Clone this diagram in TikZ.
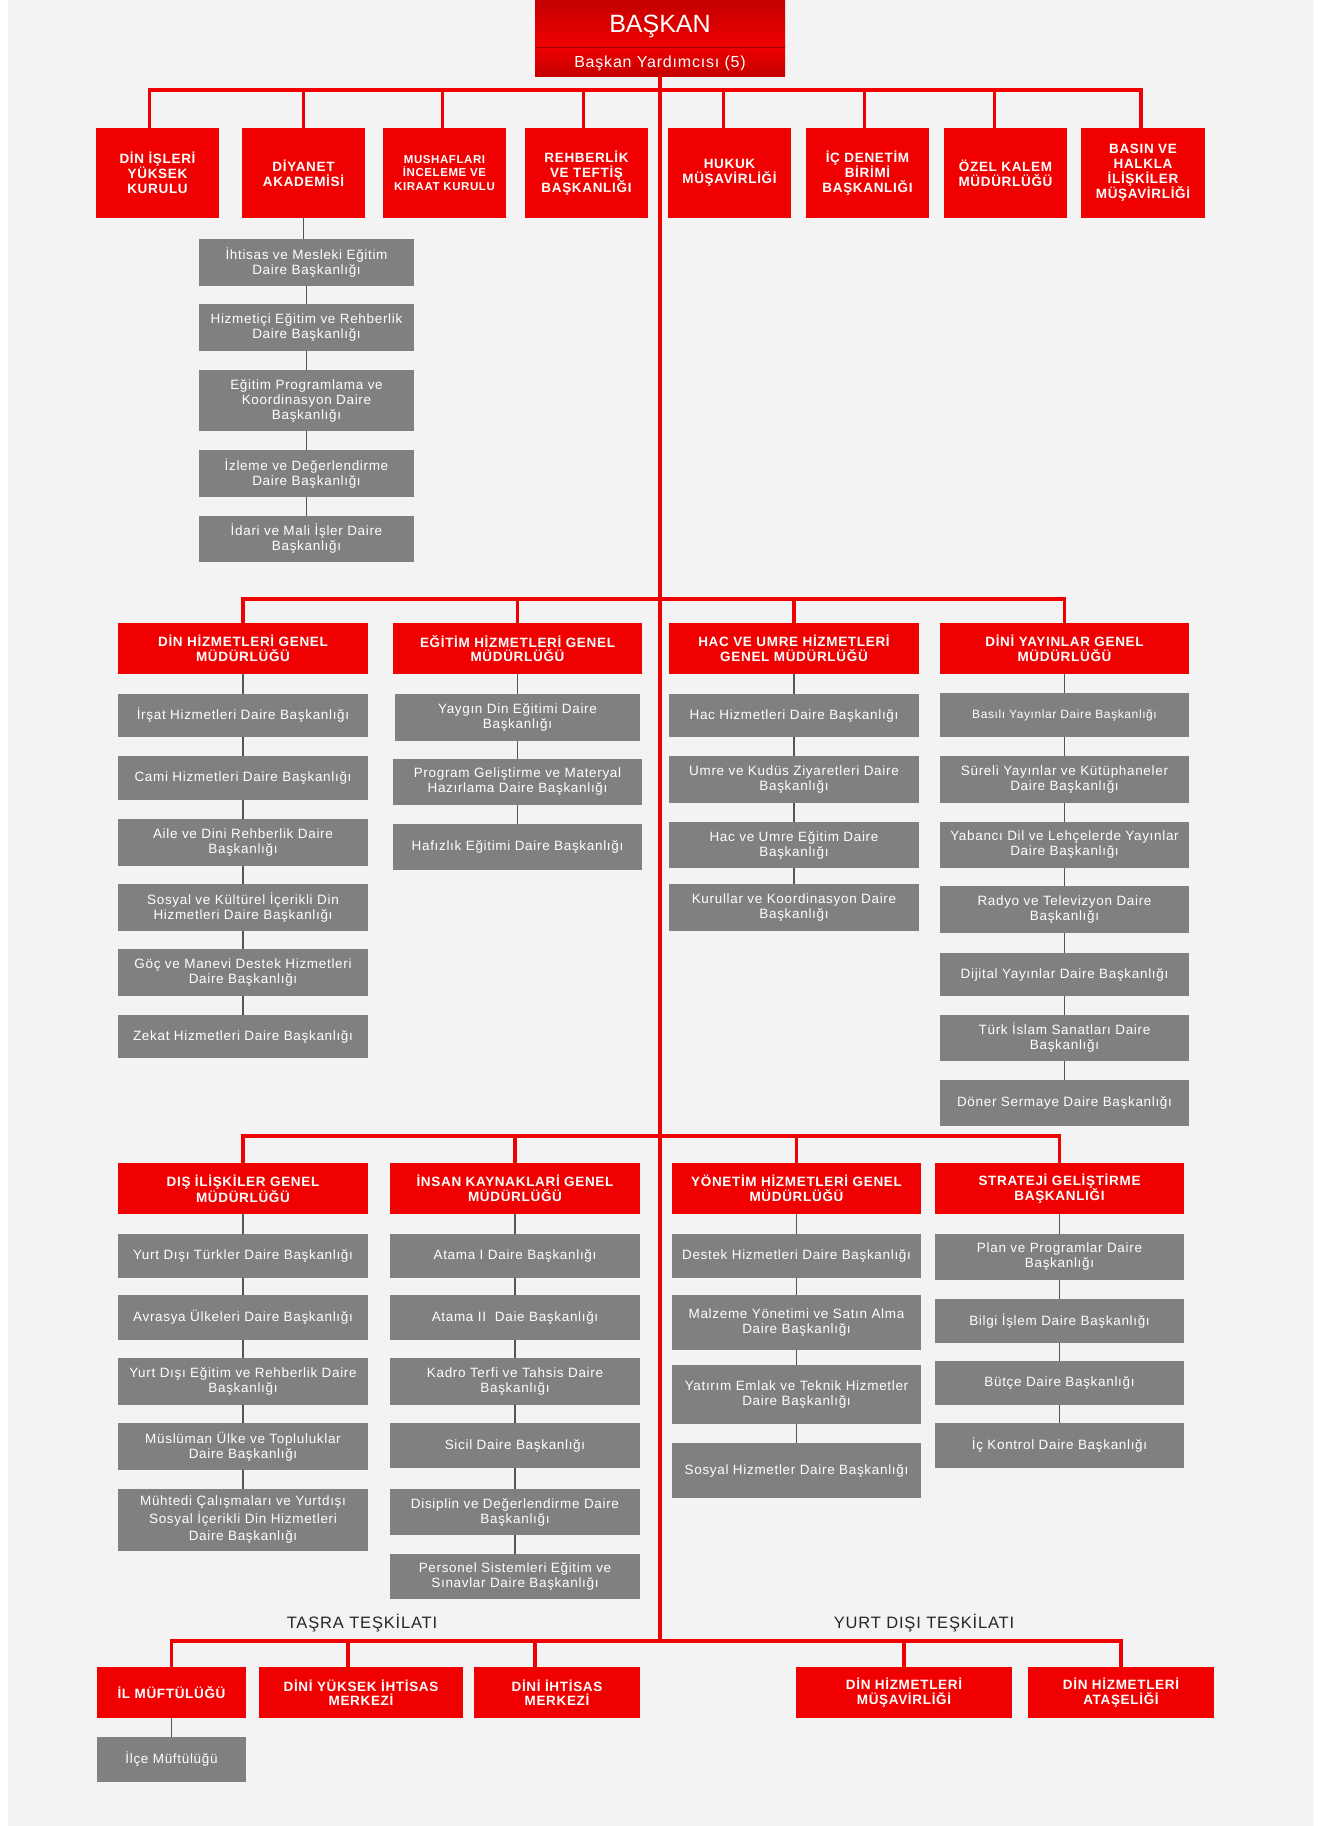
\documentclass[tikz,border=0pt]{standalone}
\usepackage{fontspec}
\setmainfont{Liberation Sans}
\newfontfamily\gfont[LetterSpace=5]{Liberation Sans}
\definecolor{bred}{RGB}{240,0,0}
\definecolor{dred}{RGB}{196,0,0}
\definecolor{bgray}{RGB}{128,128,128}
\definecolor{bgc}{RGB}{243,243,243}
\definecolor{lgray}{RGB}{85,85,85}
\newcommand\RBox[7][]{\node[redbox,#1,minimum width={#5pt-#3pt},minimum height={#6pt-#4pt}] (#2) at ({(#3+#5)/2},{(#4+#6)/2}) {#7};}
\newcommand\GBox[7][]{\node[graybox,#1,minimum width={#5pt-#3pt},minimum height={#6pt-#4pt}] (#2) at ({(#3+#5)/2},{(#4+#6)/2}) {#7};}
\tikzset{
  redbox/.style={fill=bred,text=white,font=\gfont\bfseries\fontsize{13.5}{14.5}\selectfont,align=center,inner sep=0pt,outer sep=0pt},
  toprow/.style={font=\gfont\bfseries\fontsize{13.5}{15}\selectfont},
  graybox/.style={fill=bgray,text=white,font=\gfont\fontsize{13.5}{15}\selectfont,align=center,inner sep=0pt,outer sep=0pt},
  rline/.style={draw=bred,line width=3.5pt},
  gline/.style={draw=lgray,line width=1.5pt},
  lbl/.style={font=\gfont\fontsize{16.5}{18}\selectfont,text=black!85,inner sep=0pt}
}
\begin{document}
\begin{tikzpicture}[x=1pt,y=-1pt]
\useasboundingbox (0,0) rectangle (1321,1826);
\fill[white] (0,0) rectangle (1321,1826);
\fill[bgc] (8,0) rectangle (1313,1826);
% bus coordinates
\coordinate (r1) at (0,90);
\coordinate (r2) at (0,599);
\coordinate (r3) at (0,1136);
\coordinate (r4) at (0,1641);
% head
\node[top color=dred,bottom color=bred,minimum width=250pt,minimum height=47pt,inner sep=0pt,outer sep=0pt,text=white,font=\fontsize{25}{28}\selectfont] (baskan) at (660,23.5) {\raisebox{-9pt}[0pt][0pt]{BAŞKAN}};
\node[top color=bred,bottom color=dred,minimum width=250pt,minimum height=29pt,inner sep=0pt,outer sep=0pt,text=white,font=\gfont\fontsize{16}{18}\selectfont] (yard) at (660,61.5) {\raisebox{-5.5pt}[0pt][0pt]{Başkan Yardımcısı (5)}};
\draw[dred!80!black,line width=1pt] (baskan.south west) -- (baskan.south east);
% top row
\RBox[toprow]{dik}{96}{128}{219}{218}{DİN İŞLERİ\\YÜKSEK\\KURULU}
\RBox[toprow]{dak}{242}{128}{365}{218}{DİYANET\\AKADEMİSİ}
\RBox[font=\gfont\bfseries\fontsize{11.5}{13.5}\selectfont]{mus}{383}{128}{506}{218}{MUSHAFLARI\\İNCELEME VE\\KIRAAT KURULU}
\RBox[toprow]{reh}{525}{128}{648}{218}{REHBERLİK\\VE TEFTİŞ\\BAŞKANLIĞI}
\RBox[toprow]{huk}{668}{128}{791}{218}{HUKUK\\MÜŞAVİRLİĞİ}
\RBox[toprow]{icd}{806}{128}{929}{218}{İÇ DENETİM\\BİRİMİ\\BAŞKANLIĞI}
\RBox[toprow]{ozk}{944}{128}{1067}{218}{ÖZEL KALEM\\MÜDÜRLÜĞÜ}
\RBox[toprow]{bas}{1081}{128}{1205}{218}{BASIN VE\\HALKLA\\İLİŞKİLER\\MÜŞAVİRLİĞİ}
% akademi
\GBox{ak1}{199}{239}{414}{286}{İhtisas ve Mesleki Eğitim\\Daire Başkanlığı}
\GBox{ak2}{199}{304}{414}{351}{Hizmetiçi Eğitim ve Rehberlik\\Daire Başkanlığı}
\GBox{ak3}{199}{370}{414}{431}{Eğitim Programlama ve\\Koordinasyon Daire\\Başkanlığı}
\GBox{ak4}{199}{450}{414}{497}{İzleme ve Değerlendirme\\Daire Başkanlığı}
\GBox{ak5}{199}{516}{414}{562}{İdari ve Mali İşler Daire\\Başkanlığı}
% row 2 heads
\RBox{dhg}{118}{623}{368}{674}{DİN HİZMETLERİ GENEL\\MÜDÜRLÜĞÜ}
\RBox{ehg}{393}{623}{642}{674}{EĞİTİM HİZMETLERİ GENEL\\MÜDÜRLÜĞÜ}
\RBox{hug}{669}{623}{919}{674}{HAC VE UMRE HİZMETLERİ\\GENEL MÜDÜRLÜĞÜ}
\RBox{dyg}{940}{623}{1189}{674}{DİNİ YAYINLAR GENEL\\MÜDÜRLÜĞÜ}
% col 1
\GBox{d1}{118}{694}{368}{737}{İrşat Hizmetleri Daire Başkanlığı}
\GBox{d2}{118}{756}{368}{800}{Cami Hizmetleri Daire Başkanlığı}
\GBox{d3}{118}{819}{368}{866}{Aile ve Dini Rehberlik Daire\\Başkanlığı}
\GBox{d4}{118}{884}{368}{931}{Sosyal ve Kültürel İçerikli Din\\Hizmetleri Daire Başkanlığı}
\GBox{d5}{118}{949}{368}{996}{Göç ve Manevi Destek Hizmetleri\\Daire Başkanlığı}
\GBox{d6}{118}{1015}{368}{1058}{Zekat Hizmetleri Daire Başkanlığı}
% col 2
\GBox{e1}{395}{694}{640}{741}{Yaygın Din Eğitimi Daire\\Başkanlığı}
\GBox{e2}{393}{759}{642}{805}{Program Geliştirme ve Materyal\\Hazırlama Daire Başkanlığı}
\GBox{e3}{393}{824}{642}{870}{Hafızlık Eğitimi Daire Başkanlığı}
% col 3
\GBox{h1}{669}{694}{919}{737}{Hac Hizmetleri Daire Başkanlığı}
\GBox{h2}{669}{756}{919}{803}{Umre ve Kudüs Ziyaretleri Daire\\Başkanlığı}
\GBox{h3}{669}{822}{919}{868}{Hac ve Umre Eğitim Daire\\Başkanlığı}
\GBox{h4}{669}{884}{919}{931}{Kurullar ve Koordinasyon Daire\\Başkanlığı}
% col 4
\GBox[font=\gfont\fontsize{12}{14}\selectfont]{y1}{940}{693}{1189}{737}{Basılı Yayınlar Daire Başkanlığı}
\GBox{y2}{940}{756}{1189}{803}{Süreli Yayınlar ve Kütüphaneler\\Daire Başkanlığı}
\GBox{y3}{940}{822}{1189}{868}{Yabancı Dil ve Lehçelerde Yayınlar\\Daire Başkanlığı}
\GBox{y4}{940}{886}{1189}{933}{Radyo ve Televizyon Daire\\Başkanlığı}
\GBox{y5}{940}{953}{1189}{996}{Dijital Yayınlar Daire Başkanlığı}
\GBox{y6}{940}{1015}{1189}{1061}{Türk İslam Sanatları Daire\\Başkanlığı}
\GBox{y7}{940}{1080}{1189}{1126}{Döner Sermaye Daire Başkanlığı}
% row 3 heads
\RBox{dis}{118}{1163}{368}{1214}{DIŞ İLİŞKİLER GENEL\\MÜDÜRLÜĞÜ}
\RBox{ins}{390}{1163}{640}{1214}{İNSAN KAYNAKLARİ GENEL\\MÜDÜRLÜĞÜ}
\RBox{yon}{672}{1163}{921}{1214}{YÖNETİM HİZMETLERİ GENEL\\MÜDÜRLÜĞÜ}
\RBox{str}{935}{1163}{1184}{1214}{STRATEJİ GELİŞTİRME\\BAŞKANLIĞI}
% col 1
\GBox{s1}{118}{1234}{368}{1278}{Yurt Dışı Türkler Daire Başkanlığı}
\GBox{s2}{118}{1295}{368}{1340}{Avrasya Ülkeleri Daire Başkanlığı}
\GBox{s3}{118}{1358}{368}{1405}{Yurt Dışı Eğitim ve Rehberlik Daire\\Başkanlığı}
\GBox{s4}{118}{1423}{368}{1470}{Müslüman Ülke ve Topluluklar\\Daire Başkanlığı}
\GBox[font=\gfont\fontsize{13.5}{17.5}\selectfont]{s5}{118}{1489}{368}{1551}{Mühtedi Çalışmaları ve Yurtdışı\\Sosyal İçerikli Din Hizmetleri\\Daire Başkanlığı}
% col 2
\GBox{i1}{390}{1234}{640}{1278}{Atama I Daire Başkanlığı}
\GBox{i2}{390}{1295}{640}{1340}{Atama II\ \ Daie Başkanlığı}
\GBox{i3}{390}{1358}{640}{1405}{Kadro Terfi ve Tahsis Daire\\Başkanlığı}
\GBox{i4}{390}{1423}{640}{1468}{Sicil Daire Başkanlığı}
\GBox{i5}{390}{1489}{640}{1535}{Disiplin ve Değerlendirme Daire\\Başkanlığı}
\GBox{i6}{390}{1554}{640}{1599}{Personel Sistemleri Eğitim ve\\Sınavlar Daire Başkanlığı}
% col 3
\GBox{yo1}{672}{1234}{921}{1278}{Destek Hizmetleri Daire Başkanlığı}
\GBox{yo2}{672}{1295}{921}{1350}{Malzeme Yönetimi ve Satın Alma\\Daire Başkanlığı}
\GBox{yo3}{672}{1365}{921}{1424}{Yatırım Emlak ve Teknik Hizmetler\\Daire Başkanlığı}
\GBox{yo4}{672}{1443}{921}{1498}{Sosyal Hizmetler Daire Başkanlığı}
% col 4
\GBox{st1}{935}{1234}{1184}{1280}{Plan ve Programlar Daire\\Başkanlığı}
\GBox{st2}{935}{1299}{1184}{1343}{Bilgi İşlem Daire Başkanlığı}
\GBox{st3}{935}{1361}{1184}{1405}{Bütçe Daire Başkanlığı}
\GBox{st4}{935}{1423}{1184}{1468}{İç Kontrol Daire Başkanlığı}
% bottom
\node[lbl] (tasra) at (362,1623) {TAŞRA TEŞKİLATI};
\node[lbl] (yurtdisi) at (924,1623) {YURT DIŞI TEŞKİLATI};
\RBox{ilm}{97}{1667}{246}{1718}{İL MÜFTÜLÜĞÜ}
\RBox{dyi}{259}{1667}{463}{1718}{DİNİ YÜKSEK İHTİSAS\\MERKEZİ}
\RBox{dih}{474}{1667}{640}{1718}{DİNİ İHTİSAS\\MERKEZİ}
\RBox{dhm}{796}{1667}{1012}{1718}{DİN HİZMETLERİ\\MÜŞAVİRLİĞİ}
\RBox{dha}{1028}{1667}{1214}{1718}{DİN HİZMETLERİ\\ATAŞELİĞİ}
\GBox{ilce}{97}{1737}{246}{1782}{İlçe Müftülüğü}
% gray connectors
\foreach \a/\b in {dak/ak1,ak1/ak2,ak2/ak3,ak3/ak4,ak4/ak5,
  dhg/d1,d1/d2,d2/d3,d3/d4,d4/d5,d5/d6,
  ehg/e1,e1/e2,e2/e3,
  hug/h1,h1/h2,h2/h3,h3/h4,
  dyg/y1,y1/y2,y2/y3,y3/y4,y4/y5,y5/y6,y6/y7,
  dis/s1,s1/s2,s2/s3,s3/s4,s4/s5,
  ins/i1,i1/i2,i2/i3,i3/i4,i4/i5,i5/i6,
  yon/yo1,yo1/yo2,yo2/yo3,yo3/yo4,
  str/st1,st1/st2,st2/st3,st3/st4,
  ilm/ilce}
  \draw[gline] (\a.south) -- (\a.south |- \b.north);
% red connectors
\draw[rline] (yard.south) -- (yard.south |- r4);
\draw[rline] ([xshift=-8pt]dik.north) -- ([xshift=-8pt]dik.north |- r1) -| ([xshift=-2pt]bas.north);
\foreach \n/\s in {dak/0,mus/-2,reh/-3,huk/-6,icd/-3,ozk/-11}
  \draw[rline] ([xshift=\s pt]\n.north) -- ([xshift=\s pt]\n.north |- r1);
\draw[rline] (dhg.north) -- (dhg.north |- r2) -| (dyg.north);
\foreach \n in {ehg,hug}
  \draw[rline] (\n.north) -- (\n.north |- r2);
\draw[rline] (dis.north) -- (dis.north |- r3) -| (str.north);
\foreach \n in {ins,yon}
  \draw[rline] (\n.north) -- (\n.north |- r3);
\draw[rline] (ilm.north) -- (ilm.north |- r4) -| (dha.north);
\draw[rline] ([xshift=-13pt]dyi.north) -- ([xshift=-13pt]dyi.north |- r4);
\draw[rline] ([xshift=-22pt]dih.north) -- ([xshift=-22pt]dih.north |- r4);
\draw[rline] (dhm.north) -- (dhm.north |- r4);
\end{tikzpicture}
\end{document}
